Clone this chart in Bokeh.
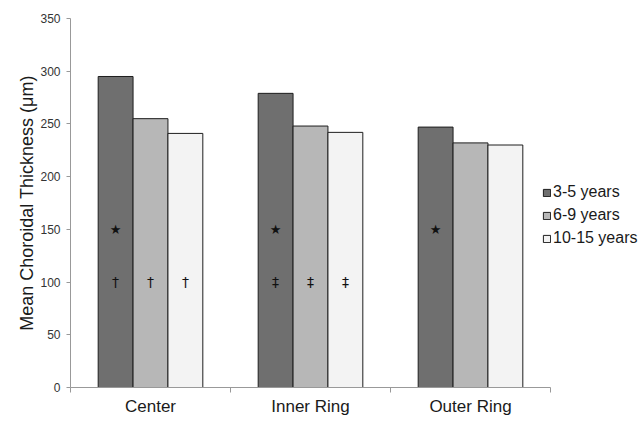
import numpy as np
from bokeh.plotting import figure
from bokeh.models import Range1d, FixedTicker, Legend, LegendItem, ColumnDataSource
from bokeh.core.properties import value
from bokeh.embed import file_html
from bokeh.resources import INLINE

# ---- data ----
regions = ["Center", "Inner Ring", "Outer Ring"]
age_groups = ["3-5 years", "6-9 years", "10-15 years"]
thickness_3_5 = [295, 279, 247]
thickness_6_9 = [255, 248, 232]
thickness_10_15 = [241, 242, 230]
star_3_5 = ["★", "★", "★"]
dagger_3_5 = ["†", "‡", ""]
dagger_6_9 = ["†", "‡", ""]
dagger_10_15 = ["†", "‡", ""]
star_level = 150
dagger_level = 100
y_ticks = [0, 50, 100, 150, 200, 250, 300, 350]

series_values = [thickness_3_5, thickness_6_9, thickness_10_15]
series_daggers = [dagger_3_5, dagger_6_9, dagger_10_15]
series_stars = [star_3_5, ["", "", ""], ["", "", ""]]

# ---- style ----
FONT = "Liberation Sans"
colors = ["#6f6f6f", "#b7b7b7", "#f3f3f3"]
BAR_W = 0.218
offsets = [-BAR_W, 0.0, BAR_W]
n = len(regions)

p = figure(frame_width=480, frame_height=369,
           x_range=Range1d(0, n), y_range=Range1d(0, 350),
           output_backend="svg", toolbar_location=None,
           min_border_left=70, min_border_top=18,
           min_border_bottom=30, min_border_right=60)
p.outline_line_color = None
p.xgrid.grid_line_color = None
p.ygrid.grid_line_color = None
p.background_fill_color = "white"
p.border_fill_color = "white"

centers = np.arange(n) + 0.5
items = []
for i, (vals, lab) in enumerate(zip(series_values, age_groups)):
    xs = centers + offsets[i]
    src = ColumnDataSource(dict(x=xs, top=vals))
    r = p.vbar(x="x", top="top", bottom=0, width=BAR_W, source=src,
               fill_color=colors[i], line_color="#1e1e1e", line_width=1)
    items.append(LegendItem(label=lab, renderers=[r]))
    p.text(x=xs, y=[star_level] * len(xs), text=series_stars[i],
           text_font=value("DejaVu Sans"), text_font_size="13px",
           text_align="center", text_baseline="middle", text_color="#111111")
    p.text(x=xs, y=[dagger_level] * len(xs), text=series_daggers[i],
           text_font=value("DejaVu Sans"), text_font_size="14px",
           text_align="center", text_baseline="middle", text_color="#111111")

# x axis: labels at centers, tick marks at category boundaries
xa = p.xaxis[0]
xa.ticker = FixedTicker(ticks=list(centers), minor_ticks=list(range(n + 1)))
xa.major_label_overrides = {float(c): r for c, r in zip(centers, regions)}
xa.major_tick_out = 0
xa.major_tick_in = 0
xa.minor_tick_out = 5
xa.minor_tick_in = 0
xa.minor_tick_line_color = "#999999"
xa.axis_line_color = "#999999"
xa.major_label_standoff = 4
xa.major_label_text_font = FONT
xa.major_label_text_font_size = "17px"
xa.major_label_text_color = "#1a1a1a"

ya = p.yaxis[0]
ya.ticker = FixedTicker(ticks=y_ticks)
ya.minor_tick_line_color = None
ya.major_tick_out = 4
ya.major_tick_in = 0
ya.major_tick_line_color = "#999999"
ya.axis_line_color = "#999999"
ya.major_label_standoff = 6
ya.major_label_text_font = FONT
ya.major_label_text_font_size = "12px"
ya.major_label_text_color = "#333333"
ya.axis_label = "Mean Choroidal Thickness (μm)"
ya.axis_label_text_font = FONT
ya.axis_label_text_font_style = "normal"
ya.axis_label_text_font_size = "18px"
ya.axis_label_text_color = "#1a1a1a"
ya.axis_label_standoff = 0

legend = Legend(items=items, location=(-8, 139),
                border_line_color=None, background_fill_alpha=0,
                padding=0, margin=0, spacing=3,
                glyph_width=9, glyph_height=9, label_standoff=2,
                label_text_font=FONT, label_text_font_size="16px",
                label_text_color="#1a1a1a", label_height=20)
p.add_layout(legend, "right")

open("out.html", "w").write(file_html(p, INLINE))
